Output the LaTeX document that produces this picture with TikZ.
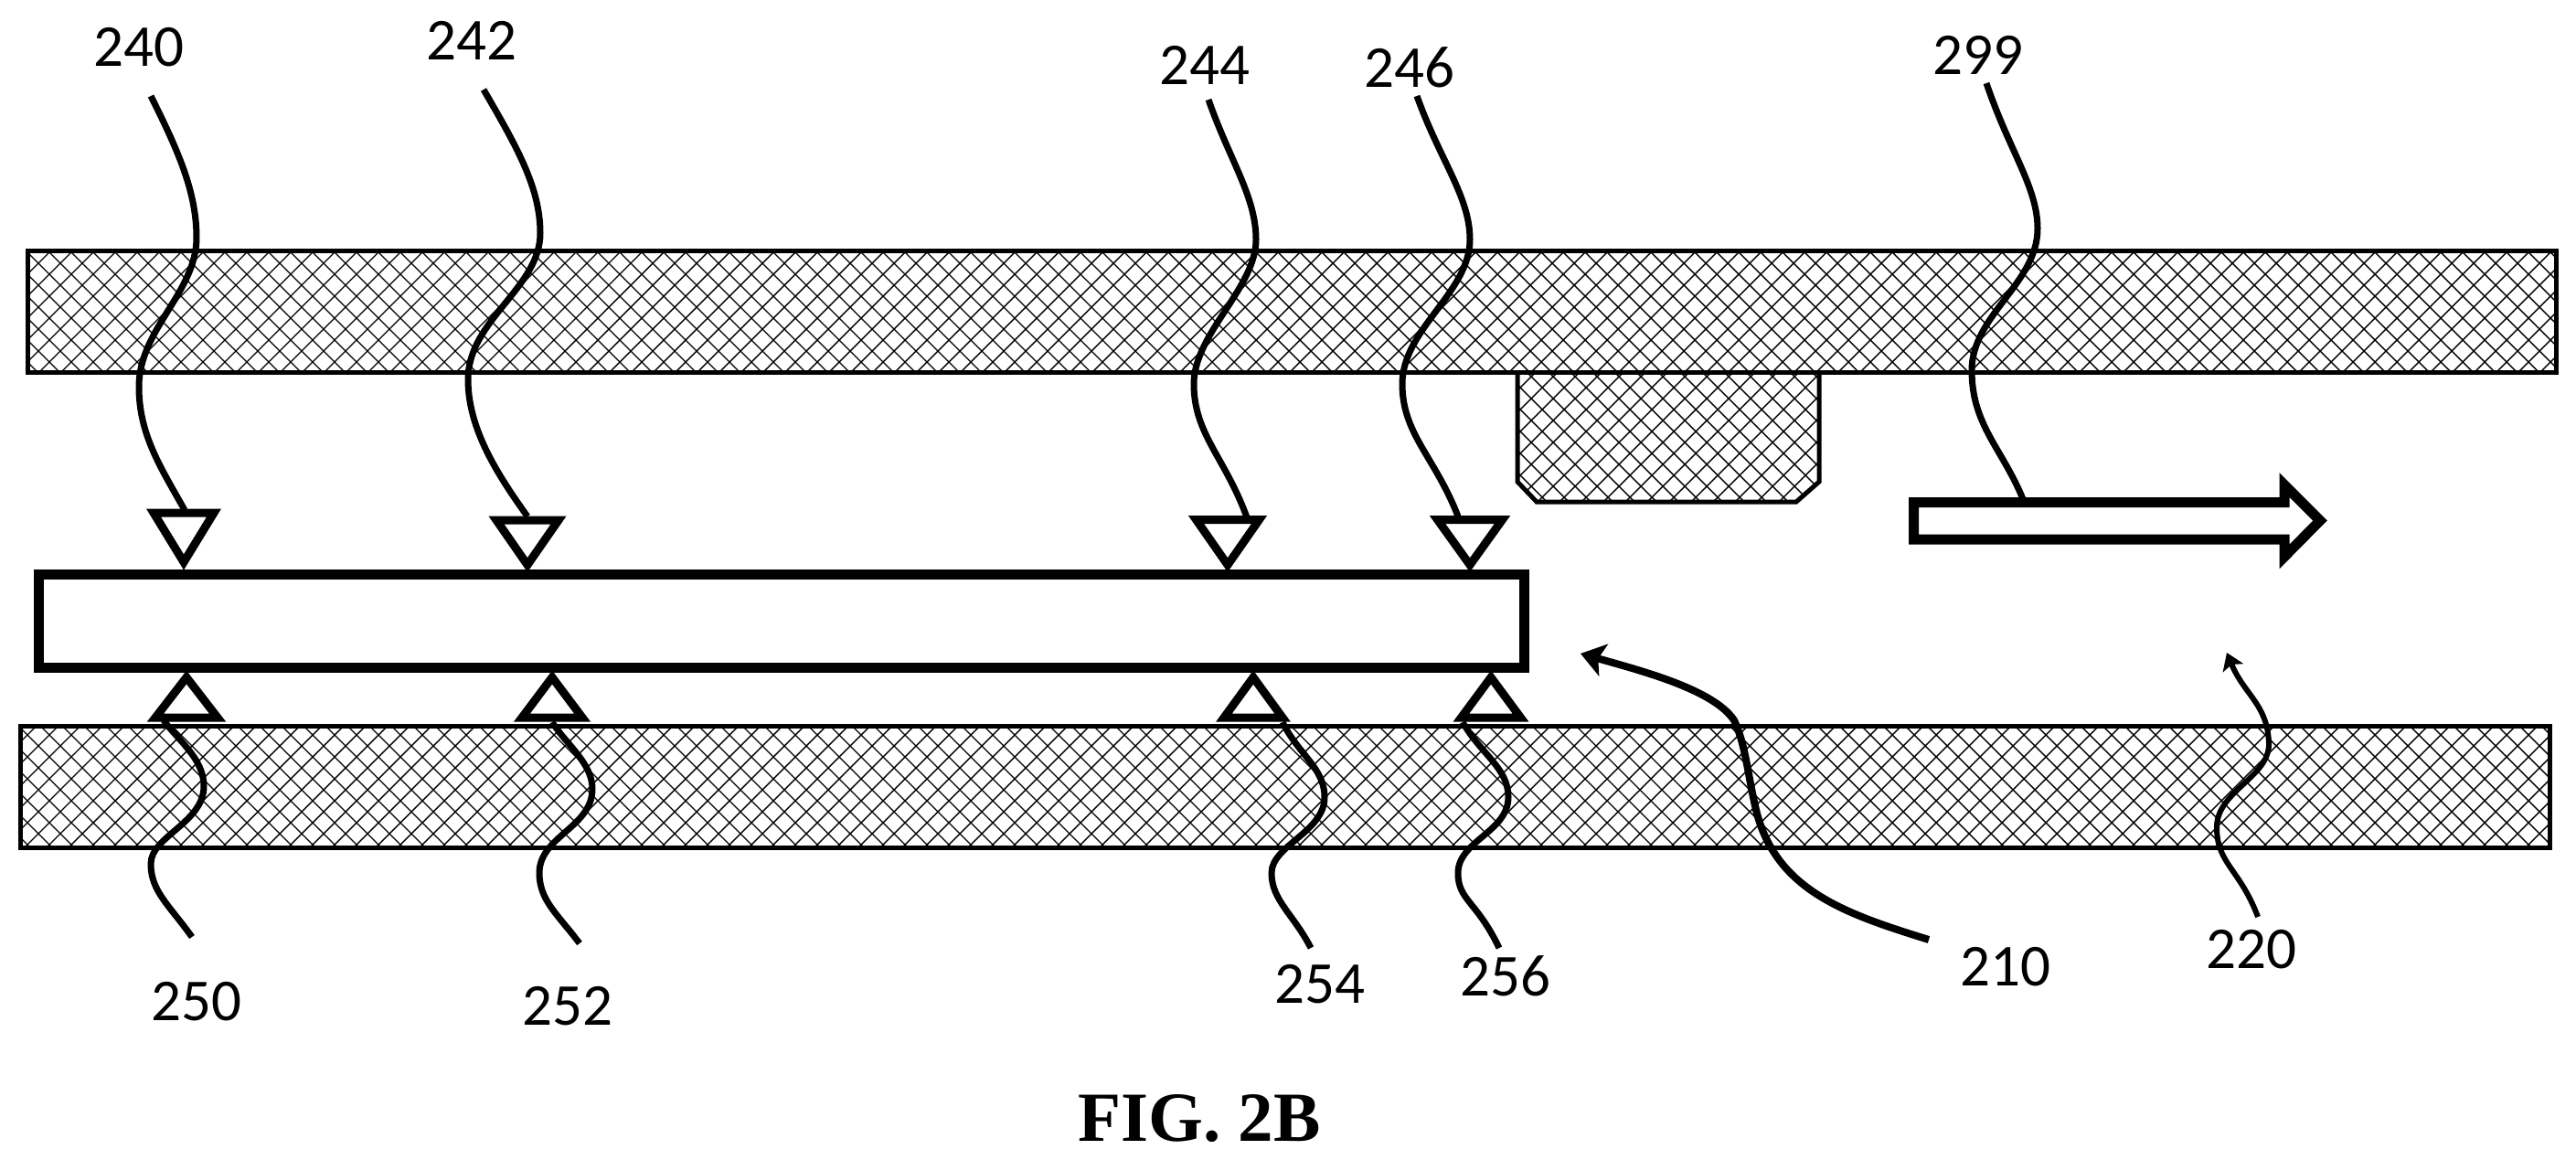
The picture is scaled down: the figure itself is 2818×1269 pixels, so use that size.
\documentclass[tikz,border=0pt]{standalone}
\usepackage{fontspec}
\setmainfont{Carlito}
\newfontfamily\figfont{Liberation Serif}
\usetikzlibrary{arrows.meta}
\tikzset{
  hatchline/.style={line width=0.7pt,black,line cap=butt},
  outline/.style={line width=2.5pt,black,miter limit=10},
  thickbox/.style={line width=5.5pt,black,fill=white,miter limit=10},
  lead/.style={line width=3.5pt,black,line cap=butt},
  tri/.style={line width=4.5pt,black,fill=white,miter limit=10,line join=miter},
  lab/.style={font=\fontsize{32.5}{36}\selectfont,inner sep=0pt,text=black},
  figlab/.style={font=\figfont\bfseries\fontsize{38.5}{42}\selectfont,inner sep=0pt,text=black},
  bigleadtip/.style={-{Stealth[length=13pt,width=18pt,inset=3pt]}},
  smallleadtip/.style={-{Stealth[length=9pt,width=12pt,inset=2pt]}}
}
\newcommand{\hatchfill}[3]{%
  \begin{scope}
    \clip #1;
    \foreach \i in {-720,-696,...,2832}{
      \pgfmathtruncatemacro{\ua}{\i+#2}
      \pgfmathtruncatemacro{\ub}{\ua+720}
      \draw[hatchline] (\ua,240) -- (\ub,960);
    }
    \foreach \i in {0,24,...,3792}{
      \pgfmathtruncatemacro{\ua}{\i+#3}
      \pgfmathtruncatemacro{\ub}{\ua-720}
      \draw[hatchline] (\ua,240) -- (\ub,960);
    }
  \end{scope}}
\newcommand{\downtri}[5]{% name cx top halfw tipy
  \pgfmathsetmacro{\xl}{#2-#4}\pgfmathsetmacro{\xr}{#2+#4}
  \coordinate (#1) at (#2,#3);
  \draw[tri] (\xl,#3) -- (\xr,#3) -- (#2,#5) -- cycle;}
\newcommand{\uptri}[5]{% name cx base halfw apexy
  \pgfmathsetmacro{\xl}{#2-#4}\pgfmathsetmacro{\xr}{#2+#4}
  \coordinate (#1) at (#2,#3);
  \draw[tri] (\xl,#3) -- (\xr,#3) -- (#2,#5) -- cycle;}
\begin{document}
\begin{tikzpicture}[x=0.5pt,y=-0.5pt]
\useasboundingbox (0,0) rectangle (2818,1269);

% hatched members
\hatchfill{(30,274) rectangle (2796,407)}{18}{18}
\hatchfill{(1660,407) -- (1990,407) -- (1990,527) -- (1965,549) -- (1681,549) -- (1660,527) -- cycle}{15}{23}
\hatchfill{(22,794) rectangle (2789,927)}{18}{18}
\draw[outline] (30,274) rectangle (2796,407);
\draw[outline] (1660,407) -- (1660,527) -- (1681,549) -- (1965,549) -- (1990,527) -- (1990,407);
\draw[outline] (22,794) rectangle (2789,927);

% centre plate
\draw[thickbox] (42,628.5) rectangle (1667,730.5);

% labels
\node[lab] (n240) at (152,52) {240};
\node[lab] (n242) at (516,44) {242};
\node[lab] (n244) at (1318,71) {244};
\node[lab] (n246) at (1542,74) {246};
\node[lab] (n299) at (2164,60) {299};
\node[lab] (n250) at (215,1096) {250};
\node[lab] (n252) at (621,1101) {252};
\node[lab] (n254) at (1444,1077) {254};
\node[lab] (n256) at (1647,1068) {256};
\node[lab] (n210) at (2194,1058) {210};
\node[lab] (n220) at (2463,1039) {220};
\node[figlab] (fig) at (1312,1224) {FIG. 2B};

% free ends of the leaders
\coordinate (s240) at (165,105); \coordinate (e240) at (202,558);
\coordinate (s242) at (529,98);  \coordinate (e242) at (577,565);
\coordinate (s244) at (1322,109);\coordinate (e244) at (1364,566);
\coordinate (s246) at (1550,105);\coordinate (e246) at (1595,565);
\coordinate (s299) at (2173,91); \coordinate (e299) at (2213,546);
\coordinate (s250) at (210,1025);\coordinate (e250) at (179,788);
\coordinate (s252) at (634,1032);\coordinate (e252) at (604,790);
\coordinate (s254) at (1434,1037);\coordinate (e254) at (1403,790);
\coordinate (s256) at (1640,1037);\coordinate (e256) at (1600,790);
\coordinate (s210) at (2110,1028);\coordinate (e210) at (1729,715);
\coordinate (s220) at (2470,1003);\coordinate (e220) at (2436,714);

% leaders
\draw[lead] (s240) .. controls (195,165) and (215,210) .. (215,260) .. controls (215,320) and (152,360) .. (152,423) .. controls (152,475) and (175,510) .. (e240);
\draw[lead] (s242) .. controls (565,160) and (591,205) .. (591,255) .. controls (591,315) and (512,350) .. (512,415) .. controls (512,470) and (545,520) .. (e242);
\draw[lead] (s244) .. controls (1345,175) and (1374,215) .. (1374,262) .. controls (1374,315) and (1306,365) .. (1306,420) .. controls (1306,475) and (1340,500) .. (e244);
\draw[lead] (s246) .. controls (1575,175) and (1608,215) .. (1608,262) .. controls (1608,320) and (1534,360) .. (1534,420) .. controls (1534,475) and (1570,500) .. (e246);
\draw[lead] (s299) .. controls (2198,165) and (2229,205) .. (2229,250) .. controls (2229,310) and (2157,345) .. (2157,405) .. controls (2157,465) and (2190,490) .. (e299);
\draw[lead] (s250) .. controls (185,990) and (165,975) .. (165,945) .. controls (165,915) and (223,900) .. (223,860) .. controls (223,830) and (195,810) .. (e250);
\draw[lead] (s252) .. controls (610,1000) and (590,985) .. (590,955) .. controls (590,915) and (648,905) .. (648,863) .. controls (648,835) and (620,815) .. (e252);
\draw[lead] (s254) .. controls (1415,1000) and (1391,985) .. (1391,955) .. controls (1391,925) and (1449,910) .. (1449,872) .. controls (1449,840) and (1420,825) .. (e254);
\draw[lead] (s256) .. controls (1615,985) and (1595,985) .. (1595,955) .. controls (1595,920) and (1650,910) .. (1650,872) .. controls (1650,840) and (1620,825) .. (e256);
\draw[lead,line width=4pt,bigleadtip] (s210) .. controls (2020,1000) and (1945,975) .. (1922,890) .. controls (1912,850) and (1910,815) .. (1897,788) .. controls (1875,755) and (1800,735) .. (e210);
\draw[lead,line width=3pt,smallleadtip] (s220) .. controls (2450,950) and (2425,945) .. (2425,905) .. controls (2425,865) and (2484,850) .. (2482,812) .. controls (2480,770) and (2455,760) .. (e220);

% triangles
\downtri{t240}{201}{561}{33}{615}
\downtri{t242}{577}{569}{34}{618}
\downtri{t244}{1343}{568.5}{34.5}{618}
\downtri{t246}{1608}{568.5}{35.5}{618}
\uptri{t250}{204}{785}{34}{741}
\uptri{t252}{604}{785}{33}{741}
\uptri{t254}{1371}{785}{32}{741}
\uptri{t256}{1631}{785}{32.5}{741}

% travel arrow
\draw[thickbox] (2093.5,549.5) -- (2499,549.5) -- (2499,530.5) -- (2538,569.5) -- (2499,609) -- (2499,590) -- (2093.5,590) -- cycle;
\end{tikzpicture}
\end{document}
